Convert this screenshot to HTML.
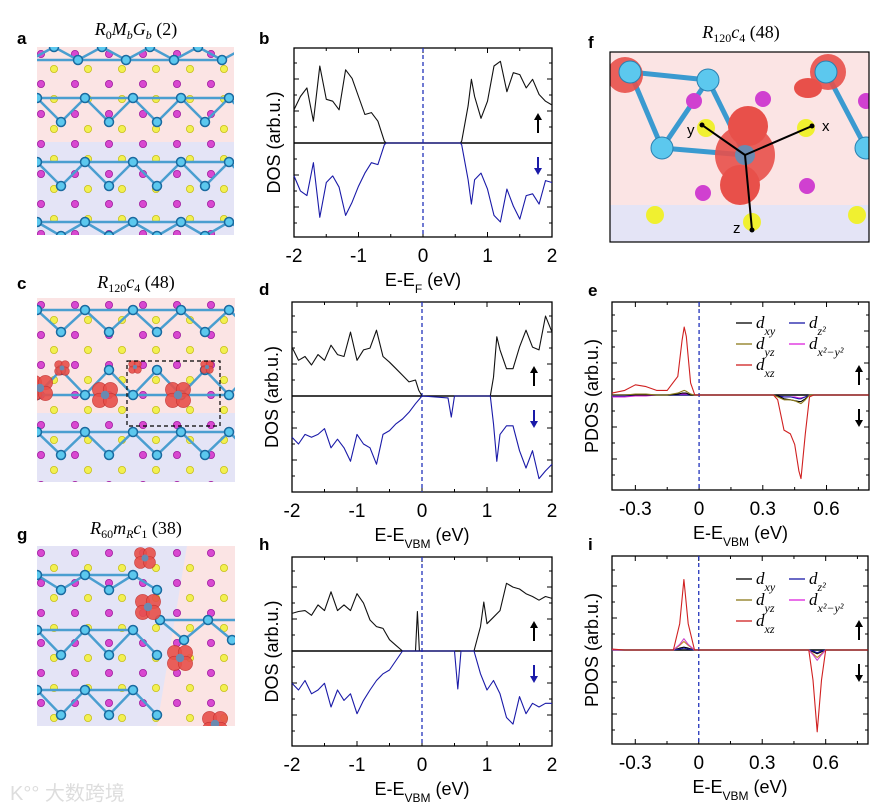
<!DOCTYPE html>
<html><head><meta charset="utf-8">
<style>
body{margin:0;background:#fff;}
#fig{position:relative;width:880px;height:809px;overflow:hidden;font-family:"Liberation Sans",sans-serif;}
svg text{font-family:"Liberation Sans",sans-serif;}
svg text.serif{font-family:"Liberation Serif",serif;}
</style></head>
<body>
<div id="fig">
<svg id="svg" width="880" height="809" viewBox="0 0 880 809" xmlns="http://www.w3.org/2000/svg">
  <g id="labels" font-weight="bold" font-size="17" fill="#000">
    <text x="17" y="44">a</text>
    <text x="259" y="44">b</text>
    <text x="588" y="48">f</text>
    <text x="17" y="289">c</text>
    <text x="259" y="295">d</text>
    <text x="588" y="296">e</text>
    <text x="17" y="540">g</text>
    <text x="259" y="550">h</text>
    <text x="588" y="550">i</text>
  </g>
  <g font-size="18" fill="#000">
    <text class="serif" x="136" y="35" text-anchor="middle"><tspan font-style="italic">R</tspan><tspan font-size="12" dy="4">0</tspan><tspan font-style="italic" dy="-4">M</tspan><tspan font-size="12" font-style="italic" dy="4">b</tspan><tspan font-style="italic" dy="-4">G</tspan><tspan font-size="12" font-style="italic" dy="4">b</tspan><tspan dy="-4"> (2)</tspan></text>
    <text class="serif" x="136" y="288" text-anchor="middle"><tspan font-style="italic">R</tspan><tspan font-size="12" dy="4">120</tspan><tspan font-style="italic" dy="-4">c</tspan><tspan font-size="12" dy="4">4</tspan><tspan dy="-4"> (48)</tspan></text>
    <text class="serif" x="136" y="534" text-anchor="middle"><tspan font-style="italic">R</tspan><tspan font-size="12" dy="4">60</tspan><tspan font-style="italic" dy="-4">m</tspan><tspan font-size="12" font-style="italic" dy="4">R</tspan><tspan font-style="italic" dy="-4">c</tspan><tspan font-size="12" dy="4">1</tspan><tspan dy="-4"> (38)</tspan></text>
    <text class="serif" x="741" y="38" text-anchor="middle"><tspan font-style="italic">R</tspan><tspan font-size="12" dy="4">120</tspan><tspan font-style="italic" dy="-4">c</tspan><tspan font-size="12" dy="4">4</tspan><tspan dy="-4"> (48)</tspan></text>
  </g>
  <g id="structs"></g>
  <g id="plots"></g>
  <text x="10" y="800" font-size="20" fill="#ddd">K°° 大数跨境</text>
</svg>
</div>
<script>
// ===== DOS data (fraction of half-height) =====
const bUpE=[-2,-1.9,-1.8,-1.7,-1.6,-1.5,-1.4,-1.3,-1.2,-1.1,-1.0,-0.9,-0.8,-0.7,-0.6,-0.57,0.58,0.6,0.7,0.75,0.8,0.9,1.0,1.1,1.2,1.3,1.4,1.5,1.6,1.7,1.8,1.9,2.0];
const bUpV=[0.35,0.49,0.58,0.23,0.81,0.46,0.44,0.35,0.77,0.68,0.49,0.30,0.32,0.23,0.02,0,0,0.02,0.39,0.67,0.49,0.26,0.44,0.81,0.86,0.54,0.74,0.72,0.58,0.67,0.51,0.44,0.40];
const bDnE=[-2,-1.9,-1.8,-1.7,-1.6,-1.5,-1.4,-1.3,-1.2,-1.1,-1.0,-0.9,-0.8,-0.7,-0.6,-0.57,0.58,0.6,0.7,0.75,0.8,0.9,1.0,1.1,1.2,1.3,1.4,1.5,1.6,1.7,1.8,1.9,2.0];
const bDnV=[0.35,0.51,0.56,0.21,0.79,0.42,0.35,0.47,0.77,0.63,0.46,0.32,0.21,0.23,0.02,0,0,0.02,0.39,0.65,0.39,0.32,0.49,0.77,0.84,0.49,0.67,0.81,0.56,0.54,0.65,0.40,0.42];
const dUpE=[-2,-1.9,-1.8,-1.7,-1.6,-1.5,-1.4,-1.3,-1.2,-1.1,-1.0,-0.9,-0.8,-0.7,-0.6,-0.5,-0.4,-0.3,-0.2,-0.1,-0.05,0,1.05,1.1,1.15,1.2,1.3,1.4,1.5,1.6,1.7,1.8,1.9,2.0];
const dUpV=[0.52,0.38,0.42,0.33,0.44,0.38,0.54,0.44,0.42,0.68,0.38,0.49,0.51,0.70,0.42,0.36,0.29,0.22,0.15,0.17,0.06,0,0,0.20,0.63,0.49,0.29,0.29,0.52,0.70,0.52,0.49,0.85,0.68];
const dDnE=[-2,-1.9,-1.8,-1.7,-1.6,-1.5,-1.4,-1.3,-1.2,-1.1,-1.0,-0.9,-0.8,-0.7,-0.6,-0.5,-0.4,-0.3,-0.2,-0.1,0,0.4,0.45,0.5,1.05,1.1,1.15,1.2,1.3,1.4,1.5,1.6,1.7,1.8,1.9,2.0];
const dDnV=[0.43,0.50,0.40,0.43,0.40,0.34,0.54,0.45,0.54,0.68,0.40,0.50,0.54,0.71,0.40,0.36,0.29,0.24,0.17,0.08,0,0.02,0.22,0,0,0.29,0.68,0.40,0.31,0.31,0.57,0.75,0.57,0.86,0.78,0.71];
const hUpE=[-2,-1.9,-1.8,-1.7,-1.6,-1.5,-1.4,-1.3,-1.2,-1.1,-1.0,-0.9,-0.8,-0.7,-0.6,-0.5,-0.4,-0.3,-0.1,-0.07,-0.04,0.8,0.9,0.95,1.0,1.1,1.2,1.3,1.4,1.5,1.6,1.7,1.8,1.9,2.0];
const hUpV=[0.40,0.42,0.43,0.38,0.49,0.43,0.63,0.43,0.49,0.43,0.61,0.51,0.33,0.26,0.24,0.12,0.06,0,0,0.42,0,0,0.26,0.52,0.29,0.36,0.43,0.72,0.68,0.66,0.61,0.58,0.54,0.58,0.56];
const hDnE=[-2,-1.9,-1.8,-1.7,-1.6,-1.5,-1.4,-1.3,-1.2,-1.1,-1.0,-0.9,-0.8,-0.7,-0.6,-0.5,-0.4,-0.3,0.5,0.55,0.6,0.8,0.9,1.0,1.1,1.2,1.3,1.4,1.5,1.6,1.7,1.8,1.9,2.0];
const hDnV=[0.34,0.41,0.31,0.45,0.41,0.34,0.59,0.41,0.52,0.45,0.66,0.52,0.41,0.31,0.24,0.20,0.10,0,0,0.40,0,0,0.24,0.41,0.31,0.45,0.70,0.77,0.48,0.66,0.55,0.59,0.55,0.55];
const dosTicks=[-2,-1,0,1,2];
// ===== PDOS data =====
const eE=[-0.41,-0.35,-0.3,-0.25,-0.2,-0.15,-0.1,-0.08,-0.07,-0.06,-0.04,-0.02,0.35,0.37,0.4,0.43,0.45,0.47,0.48,0.5,0.52,0.54,0.8];
const eXZ=[0.02,0.05,0.11,0.09,0.05,0.05,0.20,0.59,0.73,0.63,0.13,0,0,-0.05,-0.37,-0.41,-0.52,-0.80,-0.88,-0.41,-0.02,0,0];
const eYZ=[0,0,0.01,0.01,0,0,0.02,0.04,0.05,0.04,0.01,0,0,-0.02,-0.05,-0.05,-0.06,-0.08,-0.09,-0.05,0,0,0];
const eXY=[0,0,0,0,0,0,0.01,0.02,0.02,0.02,0,0,0,-0.01,-0.04,-0.05,-0.06,-0.07,-0.07,-0.04,0,0,0];
const eZ2=[-0.01,-0.01,0,0,0,0,0,0,0,0,0,0,0,-0.01,-0.02,-0.02,-0.03,-0.04,-0.04,-0.02,0,0,0];
const eX2=[-0.02,-0.02,-0.01,-0.01,0,0,0.01,0.01,0.01,0.01,0,0,0,-0.01,-0.02,-0.02,-0.02,-0.03,-0.03,-0.02,0,0,0];
const iE=[-0.41,-0.35,-0.12,-0.09,-0.07,-0.05,-0.02,0.52,0.54,0.56,0.58,0.6,0.8];
const iXZ=[0.01,0,0,0.28,0.75,0.28,0,0,-0.32,-0.87,-0.32,0,0];
const iX2=[0,0,0,0.06,0.12,0.06,0,0,-0.05,-0.11,-0.05,0,0];
const iYZ=[0,0,0,0.05,0.09,0.05,0,0,-0.04,-0.08,-0.04,0,0];
const iXY=[0,0,0,0.02,0.03,0.02,0,0,-0.02,-0.04,-0.02,0,0];
const iZ2=[0,0,0,0.01,0.02,0.01,0,0,-0.01,-0.03,-0.01,0,0];
const pdosTicks=[-0.3,0,0.3,0.6];
const pdosTickLabels=["-0.3","0","0.3","0.6"];

const NS="http://www.w3.org/2000/svg";
function mk(tag,attrs,parent){const e=document.createElementNS(NS,tag);for(const k in attrs)e.setAttribute(k,attrs[k]);parent.appendChild(e);return e;}
const plots=document.getElementById('plots');

function axes(id,L,R,T,B,Z,xmin,xmax,ticks,tlabels,minor,ylab,xlabHTML){
  const g=mk('g',{},plots);
  
  
  const X=e=>L+(e-xmin)/(xmax-xmin)*(R-L);
  const Y=v=>v>=0?Z-v*(Z-T):Z-v*(B-Z);
  const box=mk('rect',{x:L,y:T,width:R-L,height:B-T,fill:'none',stroke:'#000','stroke-width':1.3},g);
  
  
  for(let t=ticks[0]-minor*Math.round((ticks[0]-xmin)/minor);t<=xmax+1e-9;t+=minor){
    if(t<xmin-1e-9) continue;
    const major=ticks.some(v=>Math.abs(v-t)<1e-6);
    const len=major?5:3;
    mk('line',{x1:X(t),x2:X(t),y1:B,y2:B-len,stroke:'#000','stroke-width':1},g);
    mk('line',{x1:X(t),x2:X(t),y1:T,y2:T+len,stroke:'#000','stroke-width':1},g);
  }
  for(let y=Z;y>T+3;y-=16){mk('line',{x1:L,x2:L+(Math.round((Z-y)/16)%2?3:5),y1:y,y2:y,stroke:'#000'},g);mk('line',{x1:R,x2:R-(Math.round((Z-y)/16)%2?3:5),y1:y,y2:y,stroke:'#000'},g);}
  for(let y=Z;y<B-3;y+=16){mk('line',{x1:L,x2:L+(Math.round((y-Z)/16)%2?3:5),y1:y,y2:y,stroke:'#000'},g);mk('line',{x1:R,x2:R-(Math.round((y-Z)/16)%2?3:5),y1:y,y2:y,stroke:'#000'},g);}
  ticks.forEach((t,i)=>{const tx=mk('text',{x:X(t),y:B+25,'text-anchor':'middle','font-size':19},g);tx.textContent=tlabels[i];
    
    });
  const yl=mk('text',{x:0,y:0,'text-anchor':'middle','font-size':18,transform:`translate(${L-14},${(T+B)/2}) rotate(-90)`},g);
  yl.textContent=ylab;
  
  
  const xl=mk('text',{x:(L+R)/2,y:B+49,'text-anchor':'middle','font-size':18},g);
  xl.innerHTML=xlabHTML;
  
  
  const zl=mk('line',{x1:L,x2:R,y1:Z,y2:Z,stroke:'#000','stroke-width':1.6},g);
  
  
  const fl=mk('line',{x1:X(0),x2:X(0),y1:T,y2:B,stroke:'#2233bb','stroke-width':1.3,'stroke-dasharray':'4,3'},g);
  
  
  return {g,X,Y};
}
function series(ax,E,V,sign,color,name,w){
  const d=E.map((e,i)=>(i?'L':'M')+ax.X(e).toFixed(1)+','+ax.Y(sign*V[i]).toFixed(1)).join(' ');
  const p=mk('path',{d,fill:'none',stroke:color,'stroke-width':w||1.1,'stroke-linejoin':'round'},ax.g);
  
  
}
function arrows(ax,x,Z,downColor){
  mk('line',{x1:x,x2:x,y1:Z-10,y2:Z-25,stroke:'#000','stroke-width':2},ax.g);
  mk('polygon',{points:`${x-4},${Z-23} ${x+4},${Z-23} ${x},${Z-30}`,fill:'#000'},ax.g);
  mk('line',{x1:x,x2:x,y1:Z+14,y2:Z+27,stroke:downColor,'stroke-width':2},ax.g);
  mk('polygon',{points:`${x-4},${Z+25} ${x+4},${Z+25} ${x},${Z+32}`,fill:downColor},ax.g);
}
const EF='E-E<tspan baseline-shift="sub" font-size="12">F</tspan> (eV)';
const EV='E-E<tspan baseline-shift="sub" font-size="12">VBM</tspan> (eV)';
let a;
a=axes('b',294,552,48,237,143,-2,2,dosTicks,dosTicks.map(String),0.5,'DOS (arb.u.)',EF);
series(a,bUpE,bUpV,1,'#111','b-spin-up-dos');series(a,bDnE,bDnV,-1,'#1a1aa8','b-spin-down-dos');arrows(a,538,143,'#1a1aa8');
a=axes('d',292,552,302,492,396,-2,2,dosTicks,dosTicks.map(String),0.5,'DOS (arb.u.)',EV);
series(a,dUpE,dUpV,1,'#111','d-spin-up-dos');series(a,dDnE,dDnV,-1,'#1a1aa8','d-spin-down-dos');arrows(a,534,396,'#1a1aa8');
a=axes('h',292,552,557,746,651,-2,2,dosTicks,dosTicks.map(String),0.5,'DOS (arb.u.)',EV);
series(a,hUpE,hUpV,1,'#111','h-spin-up-dos');series(a,hDnE,hDnV,-1,'#1a1aa8','h-spin-down-dos');arrows(a,534,651,'#1a1aa8');

function legend(ax,y0){
  const items=[['d','xy','#000',736,0],['d','yz','#8b7a1a',736,1],['d','xz','#d02020',736,2],['d','z²','#1a1aa8',789,0],['d','x²−y²','#dd22dd',789,1]];
  items.forEach(it=>{const y=y0+it[4]*21;
    const l=mk('line',{x1:it[3],x2:it[3]+16,y1:y,y2:y,stroke:it[2],'stroke-width':1.3},ax.g);
    
    
    const t=mk('text',{x:it[3]+20,y:y+5,'font-size':17,'font-style':'italic','class':'serif'},ax.g);
    t.innerHTML=`d<tspan baseline-shift="sub" font-size="12">${it[1]}</tspan>`;
    
    });
}
a=axes('e',612,869,302,490,395,-0.41,0.8,pdosTicks,pdosTickLabels,0.15,'PDOS (arb.u.)',EV);
series(a,eE,eX2,1,'#dd22dd','e-dx2y2');series(a,eE,eZ2,1,'#1a1aa8','e-dz2');series(a,eE,eXY,1,'#000','e-dxy');series(a,eE,eYZ,1,'#8b7a1a','e-dyz');series(a,eE,eXZ,1,'#d02020','e-dxz');
legend(a,323);arrows(a,859,395,'#000');
a=axes('i',612,868,556,744,650,-0.41,0.8,pdosTicks,pdosTickLabels,0.15,'PDOS (arb.u.)',EV);
series(a,iE,iXY,1,'#000','i-dxy');series(a,iE,iZ2,1,'#1a1aa8','i-dz2');series(a,iE,iYZ,1,'#c08020','i-dyz');series(a,iE,iX2,1,'#cc44cc','i-dx2y2');series(a,iE,iXZ,1,'#d02020','i-dxz');
legend(a,579);arrows(a,859,650,'#000');

// ===== structure images (decorative) =====
const S=document.getElementById('structs');
function panel(name,x,y,w,h,split,vertical,dots){
  const g=mk('g',{},S);
  
  
  const cp=mk('clipPath',{id:'cp'+name},g);mk('rect',{x,y,width:w,height:h},cp);
  const inner=mk('g',{'clip-path':`url(#cp${name})`},g);
  mk('rect',{x,y,width:w,height:h,fill:'#fbe4e4'},inner);
  if(vertical) mk('polygon',{points:`${x},${y} ${x+split},${y} ${x+split-30},${y+h} ${x},${y+h}`,fill:'#e4e4f6'},inner);
  else mk('rect',{x,y:split,width:w,height:y+h-split,fill:'#e4e4f6'},inner);
  if(dots!==false){
  for(let r=0;r*15<h+15;r++){for(let c=0;c*34<w+34;c++){
    const cx=x+c*34+(r%2?17:4), cy=y+7+r*15;
    mk('circle',{cx,cy,r:3.6,fill:r%2?'#f2f050':'#d848d0',stroke:r%2?'#c8c020':'#a020a0','stroke-width':0.8},inner);}}}
  return inner;
}
function chain(g,x0,x1,yt,yb){
  let pts=[];let k=0;for(let x=x0;x<x1+20;x+=24){pts.push([x,k%2?yb:yt]);k++;}
  mk('polyline',{points:pts.map(p=>p.join(',')).join(' '),fill:'none',stroke:'#4a9ed0','stroke-width':2.5},g);
  for(let i=0;i+2<pts.length;i+=2) mk('line',{x1:pts[i][0],y1:pts[i][1],x2:pts[i+2][0],y2:pts[i+2][1],stroke:'#4a9ed0','stroke-width':2.5},g);
  pts.forEach(p=>mk('circle',{cx:p[0],cy:p[1],r:4.5,fill:'#5cc8ee',stroke:'#1a6aa0','stroke-width':1.5},g));
}
function blob(g,cx,cy,s){
  [[-1,-1],[1,-1],[-1,1],[1,1]].forEach(d=>mk('circle',{cx:cx+d[0]*s*0.45,cy:cy+d[1]*s*0.45,r:s*0.6,fill:'#e8504a',stroke:'#c03030','stroke-width':0.6,opacity:0.9},g));
  mk('circle',{cx,cy,r:s*0.35,fill:'#6a8ab0'},g);
}
let p=panel('structure-a',37,47,197,188,142,false);
chain(p,30,240,60,47);chain(p,37,240,98,122);chain(p,37,240,162,186);chain(p,37,240,222,236);
p=panel('structure-c',37,298,198,184,413,false);
chain(p,37,240,310,332);chain(p,37,240,395,370);chain(p,37,240,432,455);
blob(p,40,388,12);blob(p,105,395,12);blob(p,178,395,12);blob(p,62,368,7);blob(p,135,367,6);blob(p,207,367,6);
mk('rect',{x:127,y:361,width:93,height:65,fill:'none',stroke:'#000','stroke-width':1.2,'stroke-dasharray':'4,3'},p);
p=panel('structure-g',37,546,198,180,150,true);
chain(p,37,150,575,590);chain(p,37,150,630,655);chain(p,37,160,690,715);chain(p,160,240,620,640);
blob(p,145,558,10);blob(p,148,607,12);blob(p,180,658,12);blob(p,215,724,12);
p=panel('structure-f',610,52,259,190,205,false,false);
mk('line',{x1:630,y1:72,x2:708,y2:80,stroke:'#3a9ad0','stroke-width':5},p);
mk('line',{x1:708,y1:80,x2:662,y2:148,stroke:'#3a9ad0','stroke-width':5},p);
mk('line',{x1:662,y1:148,x2:745,y2:155,stroke:'#3a9ad0','stroke-width':5},p);
mk('line',{x1:708,y1:80,x2:745,y2:155,stroke:'#3a9ad0','stroke-width':5},p);
mk('line',{x1:630,y1:72,x2:662,y2:148,stroke:'#3a9ad0','stroke-width':5},p);
mk('line',{x1:826,y1:72,x2:866,y2:148,stroke:'#3a9ad0','stroke-width':5},p);
mk('circle',{cx:745,cy:155,r:30,fill:'#e8504a',opacity:0.9},p);
mk('circle',{cx:748,cy:126,r:20,fill:'#e8504a'},p);mk('circle',{cx:740,cy:185,r:20,fill:'#e8504a'},p);
mk('circle',{cx:828,cy:72,r:18,fill:'#e8504a',opacity:0.9},p);mk('ellipse',{cx:808,cy:88,rx:14,ry:10,fill:'#e8504a'},p);
mk('circle',{cx:625,cy:75,r:18,fill:'#e8504a',opacity:0.9},p);
[[694,101],[763,99],[866,101],[703,193],[807,186]].forEach(c=>mk('circle',{cx:c[0],cy:c[1],r:8,fill:'#d040d0'},p));
[[706,128],[806,128],[655,215],[752,222],[857,215]].forEach(c=>mk('circle',{cx:c[0],cy:c[1],r:9,fill:'#f0f030'},p));
[[630,72],[708,80],[662,148],[826,72],[866,148]].forEach(c=>mk('circle',{cx:c[0],cy:c[1],r:11,fill:'#5cc8ee',stroke:'#2a80b0'},p));
mk('circle',{cx:745,cy:155,r:10,fill:'#6a8ab0'},p);
[[702,125],[812,126],[752,230]].forEach(c=>{mk('line',{x1:745,y1:155,x2:c[0],y2:c[1],stroke:'#000','stroke-width':2},p);mk('circle',{cx:c[0],cy:c[1],r:2.5,fill:'#000'},p);});
mk('rect',{x:610,y:52,width:259,height:190,fill:'none',stroke:'#000','stroke-width':1.2},S);
[['x',822,131],['y',687,135],['z',733,233]].forEach(t=>{const e=mk('text',{x:t[1],y:t[2],'font-size':15},S);e.textContent=t[0];
  
  });
</script>
</body></html>
